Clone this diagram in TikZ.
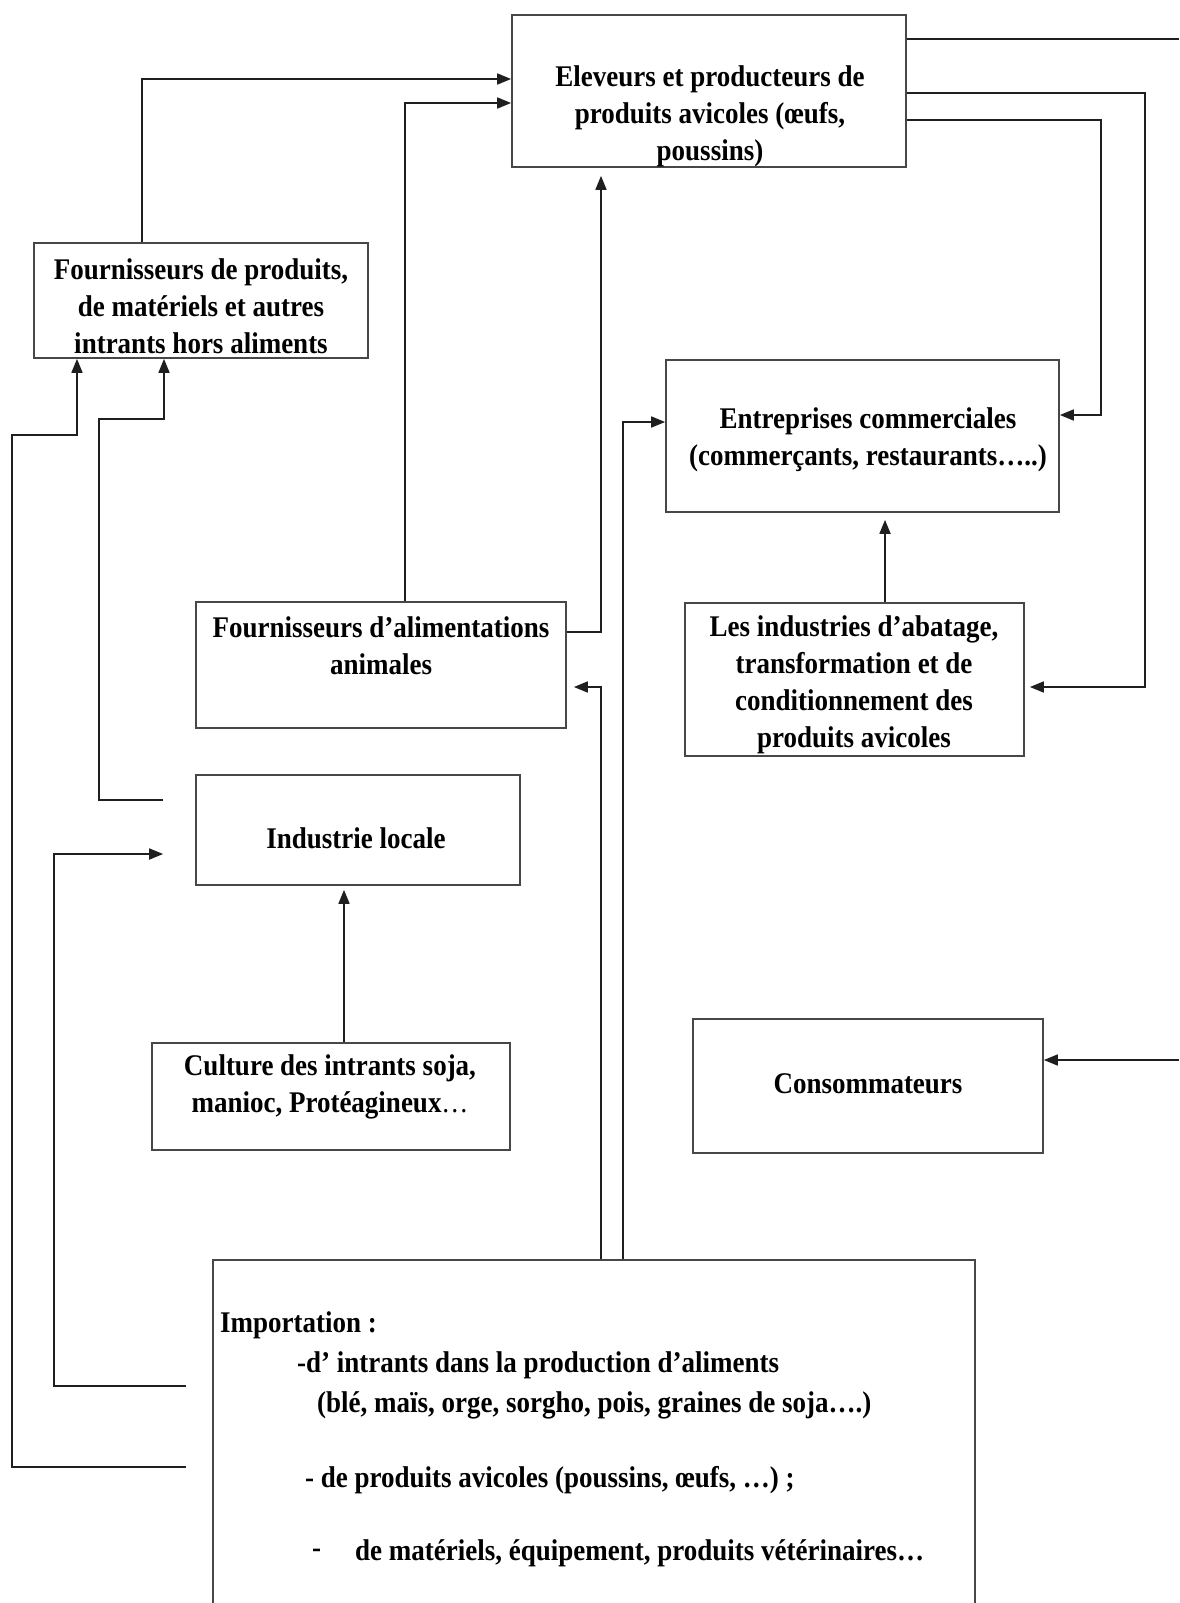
\documentclass[tikz,border=0pt]{standalone}
\usepackage{fontspec}
\setmainfont{Liberation Serif}[FakeStretch=0.9]
\usetikzlibrary{arrows.meta}
\begin{document}
\begin{tikzpicture}[x=1pt,y=-1pt,
  box/.style={draw=black!72, line width=1.7pt, rectangle, inner sep=0pt},
  txt/.style={font=\bfseries\fontsize{30}{37}\selectfont, align=center, inner sep=0pt},
  ltxt/.style={font=\bfseries\fontsize{30}{37}\selectfont, anchor=west, inner sep=0pt},
  conn/.style={draw=black!88, line width=1.7pt},
  arr/.style={conn, -{Triangle[length=14pt,width=11pt]}}]
\clip (0,0) rectangle (1179,1603);
\fill[white] (0,0) rectangle (1179,1603);
% boxes
\node[box, minimum width=394pt, minimum height=152pt] (el) at (709,91) {};
\node[box, minimum width=334pt, minimum height=115pt] (fp) at (201,300.5) {};
\node[box, minimum width=393pt, minimum height=152pt] (en) at (862.5,436) {};
\node[box, minimum width=370pt, minimum height=126pt] (fa) at (381,665) {};
\node[box, minimum width=339pt, minimum height=153pt] (li) at (854.5,679.5) {};
\node[box, minimum width=324pt, minimum height=110pt] (il) at (358,830) {};
\node[box, minimum width=358pt, minimum height=107pt] (cu) at (331,1096.5) {};
\node[box, minimum width=350pt, minimum height=134pt] (co) at (868,1086) {};
\node[box, minimum width=762pt, minimum height=370pt] (im) at (594,1445) {};
% texts
\node[txt] (elt) at (710,116) {Eleveurs et producteurs de\\produits avicoles (œufs,\\poussins)};
\node[txt] (fpt) at (201,306) {Fournisseurs de produits,\\de matériels et autres\\intrants hors aliments};
\node[txt] (ent) at (868,440) {Entreprises commerciales\\(commerçants, restaurants…..)};
\node[txt] (fat) at (381,646) {Fournisseurs d’alimentations\\animales};
\node[txt] (lit) at (854,685) {Les industries d’abatage,\\transformation et de\\conditionnement des\\produits avicoles};
\node[txt] (ilt) at (356,838) {Industrie locale};
\node[txt] (cut) at (330,1087) {Culture des intrants soja,\\manioc, Protéagineux{\mdseries…}};
\node[txt] (cot) at (868,1084) {Consommateurs};
\node[ltxt] (im1) at (220,1325) {Importation :};
\node[ltxt] (im2) at (297,1365) {-d’ intrants dans la production d’aliments};
\node[ltxt] (im3) at (317,1405) {(blé, maïs, orge, sorgho, pois, graines de soja….)};
\node[ltxt] (im4) at (305,1480) {- de produits avicoles (poussins, œufs, …) ;};
\node[ltxt] (im5) at (312,1553) {-};
\node[ltxt] (im6) at (355,1553) {de matériels, équipement, produits vétérinaires…};
% helper coordinates
\coordinate (pA) at (142,79);
\coordinate (pB) at (405,103);
\coordinate (pC) at (601,632);
\coordinate (pD) at (601,687);
\coordinate (pE) at (623,422);
\coordinate (pF) at (1145,93);
\coordinate (pF2) at (1145,687);
\coordinate (pG) at (1101,120);
\coordinate (pG2) at (1101,415);
\coordinate (pH) at (1179,39);
\coordinate (pI) at (1179,1060);
\coordinate (pJ) at (885,0);
\coordinate (pK) at (344,0);
\coordinate (pL1) at (99,800);
\coordinate (pL2) at (164,419);
\coordinate (pM1) at (54,1386);
\coordinate (pM2) at (0,854);
\coordinate (pN1) at (12,1467);
\coordinate (pN2) at (77,435);
% connectors
\draw[arr] (fp.north -| pA) |- (el.west |- pA);
\draw[arr] (fa.north -| pB) |- (el.west |- pB);
\draw[arr, shorten >=8pt] (fa.east |- pC) -- (pC) -- (el.south -| pC);
\draw[arr, shorten >=7pt] (im.north -| pD) -- (pD) -- (fa.east |- pD);
\draw[arr] (im.north -| pE) |- (en.west |- pE);
\draw[arr, shorten >=5pt] (el.east |- pF) -- (pF) -- (pF2) -- (li.east |- pF2);
\draw[arr] (el.east |- pG) -- (pG) -- (pG2) -- (en.east |- pG2);
\draw[conn] (el.east |- pH) -- (pH);
\draw[arr] (pI) -- (co.east |- pI);
\draw[arr, shorten >=7pt] (li.north -| pJ) -- (en.south -| pJ);
\draw[arr, shorten >=4pt] (cu.north -| pK) -- (il.south -| pK);
\draw[arr, shorten <=32pt] (il.west |- pL1) -- (pL1) |- (pL2) -- (fp.south -| pL2);
\draw[arr, shorten <=26pt, shorten >=32pt] (im.west |- pM1) -- (pM1) |- (il.west |- pM2);
\draw[arr, shorten <=26pt] (im.west |- pN1) -- (pN1) |- (pN2) -- (fp.south -| pN2);
\end{tikzpicture}
\end{document}
